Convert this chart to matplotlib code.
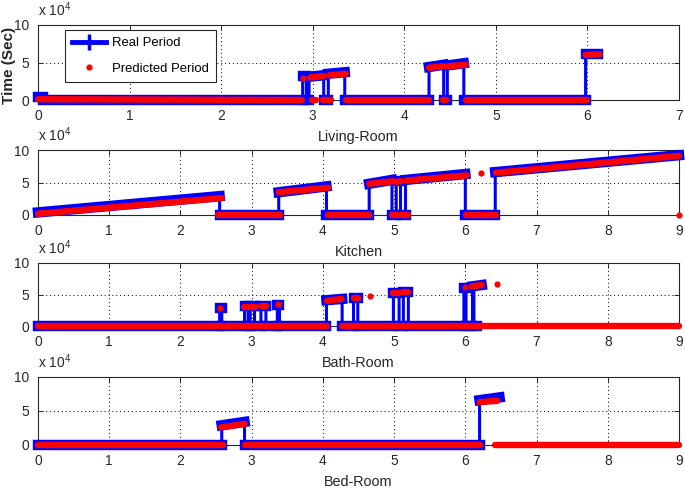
import matplotlib
matplotlib.use('Agg')
import matplotlib.pyplot as plt
from matplotlib.lines import Line2D
from matplotlib.collections import LineCollection
from matplotlib import font_manager

names = {f.name for f in font_manager.fontManager.ttflist}
NARROW = 'Liberation Sans Narrow' in names
fam = 'Liberation Sans Narrow' if NARROW else 'Liberation Sans'
sc = 1.0 if NARROW else 0.9
plt.rcParams['font.family'] = [fam, 'DejaVu Sans']
plt.rcParams['mathtext.fontset'] = 'custom'
plt.rcParams['mathtext.rm'] = fam
plt.rcParams['mathtext.it'] = fam

# ---------------- data (x in 1e4 s, y in 1e4 s) ----------------
rooms = ['Living-Room', 'Kitchen', 'Bath-Room', 'Bed-Room']
x_limits = [7, 9, 9, 9]
y_ticks = [0, 5, 10]

# Living-Room real period segments
liv_real_x0 = [0.00, 0.06, 2.89, 2.93, 2.96, 3.12, 3.17, 3.35, 4.27, 4.43, 4.47, 4.65, 5.98]
liv_real_x1 = [0.06, 2.89, 2.93, 2.96, 3.12, 3.17, 3.35, 4.27, 4.43, 4.47, 4.65, 5.98, 6.12]
liv_real_y0 = [0.4, 0.0, 3.2, 0.0, 3.1, 0.0, 3.5, 0.0, 4.4, 0.0, 4.6, 0.0, 6.2]
liv_real_y1 = [0.4, 0.0, 3.2, 0.0, 3.3, 0.0, 3.7, 0.0, 4.7, 0.0, 4.9, 0.0, 6.2]
# Living-Room predicted period
liv_pred_x0 = [0.00, 2.99, 2.97, 3.11, 3.18, 3.36, 4.27, 4.42, 4.47, 4.67, 5.98]
liv_pred_x1 = [2.88, 3.04, 3.12, 3.20, 3.36, 4.27, 4.43, 4.46, 4.67, 5.99, 6.13]
liv_pred_y0 = [0.1, 0.0, 3.0, 0.0, 3.3, 0.0, 4.3, 0.0, 4.5, 0.0, 6.0]
liv_pred_y1 = [0.0, 0.0, 3.2, 0.0, 3.5, 0.0, 4.5, 0.0, 4.7, 0.0, 6.1]
liv_dot_x = [2.89]
liv_dot_y = [2.9]

# Kitchen
kit_real_x0 = [0.00, 2.55, 3.38, 4.05, 4.65, 4.97, 5.03, 5.09, 5.16, 6.00, 6.42]
kit_real_x1 = [2.55, 3.38, 4.05, 4.65, 4.97, 5.03, 5.09, 5.16, 6.00, 6.42, 9.00]
kit_real_y0 = [0.4, 0.0, 3.5, 0.0, 4.8, 0.0, 5.3, 0.0, 5.4, 0.0, 6.6]
kit_real_y1 = [2.9, 0.0, 4.4, 0.0, 5.4, 0.0, 5.3, 0.0, 6.3, 0.0, 9.2]
kit_pred_x0 = [0.00, 2.53, 3.38, 4.07, 4.65, 4.97, 5.03, 5.10, 5.17, 6.01, 6.43]
kit_pred_x1 = [2.58, 3.40, 4.07, 4.65, 4.98, 5.05, 5.10, 5.20, 6.02, 6.43, 9.00]
kit_pred_y0 = [0.2, 0.0, 3.5, 0.0, 4.8, 0.0, 5.1, 0.0, 5.3, 0.0, 6.5]
kit_pred_y1 = [2.6, 0.0, 4.2, 0.0, 5.2, 0.0, 5.2, 0.0, 6.1, 0.0, 9.1]
kit_dot_x = [6.22, 9.00]
kit_dot_y = [6.4, 0.0]

# Bath-Room
bat_real_x0 = [0.00, 2.55, 2.58, 2.90, 2.95, 2.98, 3.04, 3.13, 3.20, 3.36, 3.39, 4.05, 4.27, 4.43, 4.49,
               4.99, 5.07, 5.13, 5.20, 5.98, 6.01, 6.10, 6.12]
bat_real_x1 = [2.55, 2.58, 2.90, 2.95, 2.98, 3.04, 3.13, 3.20, 3.36, 3.39, 4.05, 4.27, 4.43, 4.49, 4.99,
               5.07, 5.13, 5.20, 5.98, 6.01, 6.10, 6.23, 6.16]
bat_real_y0 = [0.0, 2.9, 0.0, 3.1, 0.0, 3.1, 0.0, 3.2, 0.0, 3.4, 0.0, 4.1, 0.0, 4.4, 0.0,
               5.3, 0.0, 5.4, 0.0, 6.1, 0.0, 6.3, 0.0]
bat_real_y1 = [0.0, 2.9, 0.0, 3.1, 0.0, 3.1, 0.0, 3.2, 0.0, 3.4, 0.0, 4.3, 0.0, 4.4, 0.0,
               5.3, 0.0, 5.4, 0.0, 6.1, 0.0, 6.5, 0.0]
bat_pred_x0 = [0.00, 2.94, 3.14, 2.89, 3.13, 4.06, 4.27, 5.02, 5.13, 4.44, 4.99, 5.13, 6.09, 6.18]
bat_pred_x1 = [2.92, 3.12, 4.06, 3.04, 3.20, 4.26, 5.00, 5.11, 6.14, 4.49, 5.07, 5.20, 6.23, 9.00]
bat_pred_y0 = [0.0, 0.0, 0.0, 3.0, 3.2, 4.0, 0.0, 0.0, 0.0, 4.5, 5.3, 5.4, 6.3, 0.0]
bat_pred_y1 = [0.0, 0.0, 0.0, 3.0, 3.2, 4.3, 0.0, 0.0, 0.0, 4.5, 5.3, 5.4, 6.5, 0.0]
bat_dot_x = [2.56, 3.37, 4.66, 5.99, 6.44]
bat_dot_y = [2.8, 3.5, 4.8, 6.2, 6.6]

# Bed-Room
bed_real_x0 = [0.00, 2.58, 2.90, 6.20]
bed_real_x1 = [2.58, 2.90, 6.20, 6.48]
bed_real_y0 = [0.0, 2.9, 0.0, 6.6]
bed_real_y1 = [0.0, 3.4, 0.0, 7.0]
bed_pred_x0 = [0.00, 2.57, 2.91, 6.20, 6.42]
bed_pred_x1 = [2.60, 2.90, 6.20, 6.45, 9.00]
bed_pred_y0 = [0.0, 2.6, 0.0, 6.3, 0.0]
bed_pred_y1 = [0.0, 3.1, 0.0, 6.5, 0.0]
bed_dot_x = []
bed_dot_y = []

real_data = [(liv_real_x0, liv_real_x1, liv_real_y0, liv_real_y1),
             (kit_real_x0, kit_real_x1, kit_real_y0, kit_real_y1),
             (bat_real_x0, bat_real_x1, bat_real_y0, bat_real_y1),
             (bed_real_x0, bed_real_x1, bed_real_y0, bed_real_y1)]
pred_data = [(liv_pred_x0, liv_pred_x1, liv_pred_y0, liv_pred_y1),
             (kit_pred_x0, kit_pred_x1, kit_pred_y0, kit_pred_y1),
             (bat_pred_x0, bat_pred_x1, bat_pred_y0, bat_pred_y1),
             (bed_pred_x0, bed_pred_x1, bed_pred_y0, bed_pred_y1)]
dot_data = [(liv_dot_x, liv_dot_y), (kit_dot_x, kit_dot_y),
            (bat_dot_x, bat_dot_y), (bed_dot_x, bed_dot_y)]

# ---------------- figure ----------------
fig = plt.figure(figsize=(6.85, 4.88), dpi=100)
W, H = 685.0, 488.0
# (left px, top px, right px, bottom px)
boxes = [(38, 25, 679, 100), (38, 150, 679, 215), (38, 263, 679, 326), (38, 377, 679, 445)]

BLUE = (0, 0, 1)
RED = (1, 0, 0)
TXT = '#262626'

for i, (l, t, r, b) in enumerate(boxes):
    ax = fig.add_axes([l / W, (H - b) / H, (r - l) / W, (b - t) / H])
    ax.set_xlim(0, x_limits[i])
    ax.set_ylim(0, 10)
    ax.set_xticks(list(range(0, x_limits[i] + 1)))
    ax.set_yticks(y_ticks)
    ax.grid(True, linestyle=(0, (1, 3)), color='k', linewidth=0.7)
    ax.set_axisbelow(True)
    for s in ax.spines.values():
        s.set_color(TXT)
        s.set_linewidth(0.8)
        s.set_zorder(2.5)
    ax.tick_params(direction='in', length=3.5, width=0.7, top=True, right=True,
                   labelsize=11 * sc, pad=6.5, colors=TXT, labelcolor=TXT)

    rx0, rx1, ry0, ry1 = real_data[i]
    xs, ys = [], []
    for k in range(len(rx0)):
        if k > 0:
            xs.append(rx0[k]); ys.append(ry1[k - 1])
        xs += [rx0[k], rx1[k]]
        ys += [ry0[k], ry1[k]]
    ax.plot(xs, ys, color=BLUE, lw=2.2, clip_on=False, zorder=3)
    segs = [[(a, c), (bb, d)] for a, bb, c, d in zip(rx0, rx1, ry0, ry1)]
    ax.add_collection(LineCollection(segs, colors=[BLUE], linewidths=7.5,
                                     capstyle='projecting', clip_on=False, zorder=3))

    px0, px1, py0, py1 = pred_data[i]
    segs = [[(a, c), (bb, d)] for a, bb, c, d in zip(px0, px1, py0, py1)]
    ax.add_collection(LineCollection(segs, colors=[RED], linewidths=4.6,
                                     capstyle='round', clip_on=False, zorder=4))
    dx, dy = dot_data[i]
    if dx:
        ax.plot(dx, dy, 'o', color=RED, ms=4.5, mec='none', clip_on=False, zorder=4)

    ax.set_xlabel(rooms[i], fontsize=11.5 * sc, labelpad=5, color=TXT)
    ax.annotate(r'x 10$^{4}$', xy=(0, 1), xycoords='axes fraction', xytext=(0, 4),
                textcoords='offset points', ha='left', va='bottom',
                fontsize=11 * sc, color=TXT)

    if i == 0:
        ax.set_ylabel('Time (Sec)', fontsize=11, fontweight='bold',
                      family=['Liberation Sans', 'DejaVu Sans'], color=TXT)
        ax.yaxis.set_label_coords(-0.034, 0.46)
        handles = [Line2D([], [], color=BLUE, lw=3.5, marker='+', ms=11, mew=2.5),
                   Line2D([], [], color=RED, marker='o', ls='none', ms=4.5, mec='none')]
        leg = ax.legend(handles, ['Real Period', 'Predicted Period'], loc='upper left',
                        bbox_to_anchor=(0.042, 0.933), borderaxespad=0, fancybox=False,
                        edgecolor=TXT, framealpha=1, fontsize=10.5 * sc,
                        handlelength=2.6, labelspacing=1.0, borderpad=0.55,
                        handletextpad=0.4)
        leg.get_frame().set_linewidth(0.8)
        leg.set_zorder(5)

fig.savefig('out.png', dpi=100)
